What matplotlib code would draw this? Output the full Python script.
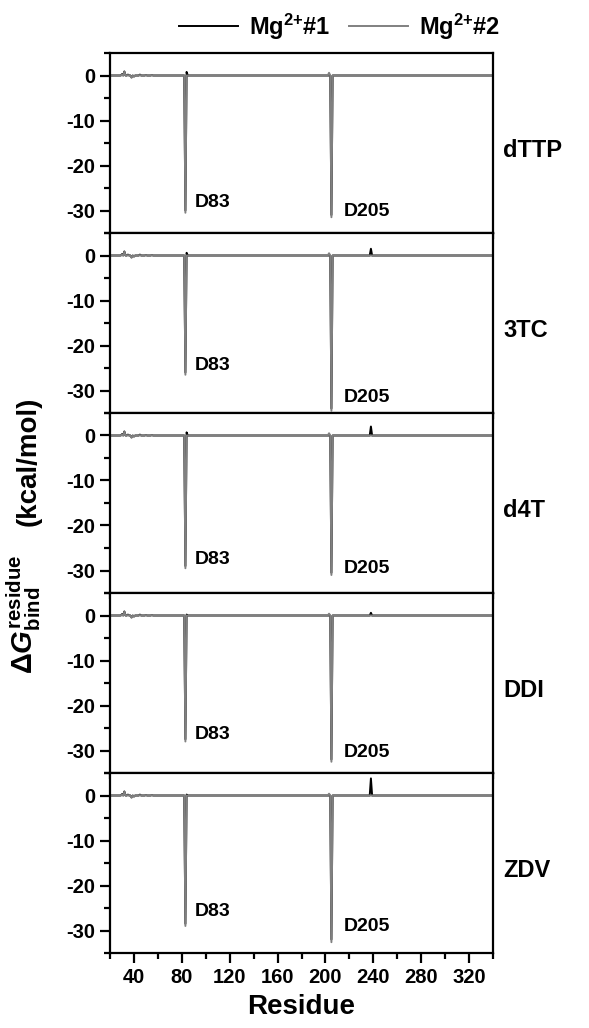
import numpy as np
import matplotlib.pyplot as plt
from matplotlib.ticker import MultipleLocator

plt.rcParams['font.family'] = ['Liberation Sans', 'DejaVu Sans']
plt.rcParams['font.weight'] = 'bold'
plt.rcParams['axes.unicode_minus'] = False
plt.rcParams['mathtext.fontset'] = 'custom'
plt.rcParams['mathtext.rm'] = 'Liberation Sans:bold'
plt.rcParams['mathtext.bf'] = 'Liberation Sans:bold'
plt.rcParams['mathtext.it'] = 'Liberation Sans:italic:bold'

# --- datos ---
panels = ['dTTP', '3TC', 'd4T', 'DDI', 'ZDV']
residues = np.arange(20, 341)

# picos principales (kcal/mol)
d83_mg1 = [-30.0, -26.0, -29.0, -27.5, -28.5]
d83_mg2 = [-30.5, -26.5, -29.5, -28.0, -29.0]
d205_mg1 = [-31.0, -34.0, -30.5, -32.0, -32.0]
d205_mg2 = [-31.5, -34.5, -31.0, -32.5, -32.6]

# contribuciones positivas pequeñas
r84_mg1 = [0.8, 0.6, 0.7, 0.2, 0.2]
r238_mg1 = [0.0, 1.5, 2.0, 0.6, 3.8]
r203_mg2 = [0.6, 0.5, 0.5, 0.4, 0.4]

# ruido cerca del extremo N (igual en todos los complejos)
nterm_res = [30, 32, 35, 38, 40, 45, 50, 55]
nterm_mg1 = [0.3, 0.9, 0.2, -0.4, -0.2, 0.2, 0.1, 0.1]
nterm_mg2 = [0.2, 0.8, 0.1, -0.5, -0.3, 0.1, 0.1, 0.1]

# posiciones de las etiquetas (valor y)
lab83_y = [-28.3, -24.5, -27.5, -26.5, -25.8]
lab205_y = [-30.2, -31.5, -29.5, -30.5, -29.1]


def build(i, mg):
    y = np.zeros(len(residues))
    noise = nterm_mg1 if mg == 1 else nterm_mg2
    for r, v in zip(nterm_res, noise):
        y[residues == r] = v
    if mg == 1:
        y[residues == 83] = d83_mg1[i]
        y[residues == 205] = d205_mg1[i]
        y[residues == 84] = r84_mg1[i]
        y[residues == 238] = r238_mg1[i]
    else:
        y[residues == 83] = d83_mg2[i]
        y[residues == 205] = d205_mg2[i]
        y[residues == 203] = r203_mg2[i]
    return y


fig = plt.figure(figsize=(5.89, 10.28), dpi=100)
left, right = 110 / 589, 493 / 589
top, bottom = 1 - 53 / 1028, 1 - 953 / 1028
h = (top - bottom) / len(panels)

axes = []
for i, name in enumerate(panels):
    ax = fig.add_axes([left, top - (i + 1) * h, right - left, h])
    axes.append(ax)
    l1, = ax.plot(residues, build(i, 1), color='black', lw=1.4)
    l2, = ax.plot(residues, build(i, 2), color='#808080', lw=1.4)
    ax.set_xlim(20, 340)
    ax.set_ylim(-35, 5)
    ax.xaxis.set_major_locator(MultipleLocator(40))
    ax.xaxis.set_minor_locator(MultipleLocator(20))
    ax.yaxis.set_minor_locator(MultipleLocator(5))
    ax.set_yticks([0, -10, -20, -30])
    ax.tick_params(which='both', direction='out', width=1.6, top=False, right=False,
                   labelsize=14.5, pad=3)
    ax.tick_params(which='major', length=7.5)
    ax.tick_params(which='minor', length=4)
    for s in ax.spines.values():
        s.set_linewidth(1.6)
    if i < len(panels) - 1:
        ax.tick_params(labelbottom=False)
    ax.text(91, lab83_y[i], 'D83', fontsize=14, fontweight='bold', va='center')
    ax.text(215, lab205_y[i], 'D205', fontsize=14, fontweight='bold', va='center')
    ax.text(1.026, 0.46, name, transform=ax.transAxes, fontsize=17,
            fontweight='bold', va='center', ha='left')

axes[-1].set_xlabel('Residue', fontsize=20, fontweight='bold', labelpad=5)

fig.text(0.048, 0.551, '(kcal/mol)', rotation=90, fontsize=20, fontweight='bold',
         ha='center', va='center')
fig.text(0.040, 0.402, r'$\Delta\mathit{G}^{\mathrm{residue}}_{\mathrm{bind}}$', rotation=90,
         fontsize=21, ha='center', va='center')

fig.legend([l1, l2], [r'Mg$^{2{+}}$#1', r'Mg$^{2{+}}$#2'], loc='center', ncol=2,
           bbox_to_anchor=(0.577, 0.974), frameon=False, fontsize=17,
           handlelength=2.5, columnspacing=0.8, handletextpad=0.45)

fig.savefig('out.png', dpi=100)
